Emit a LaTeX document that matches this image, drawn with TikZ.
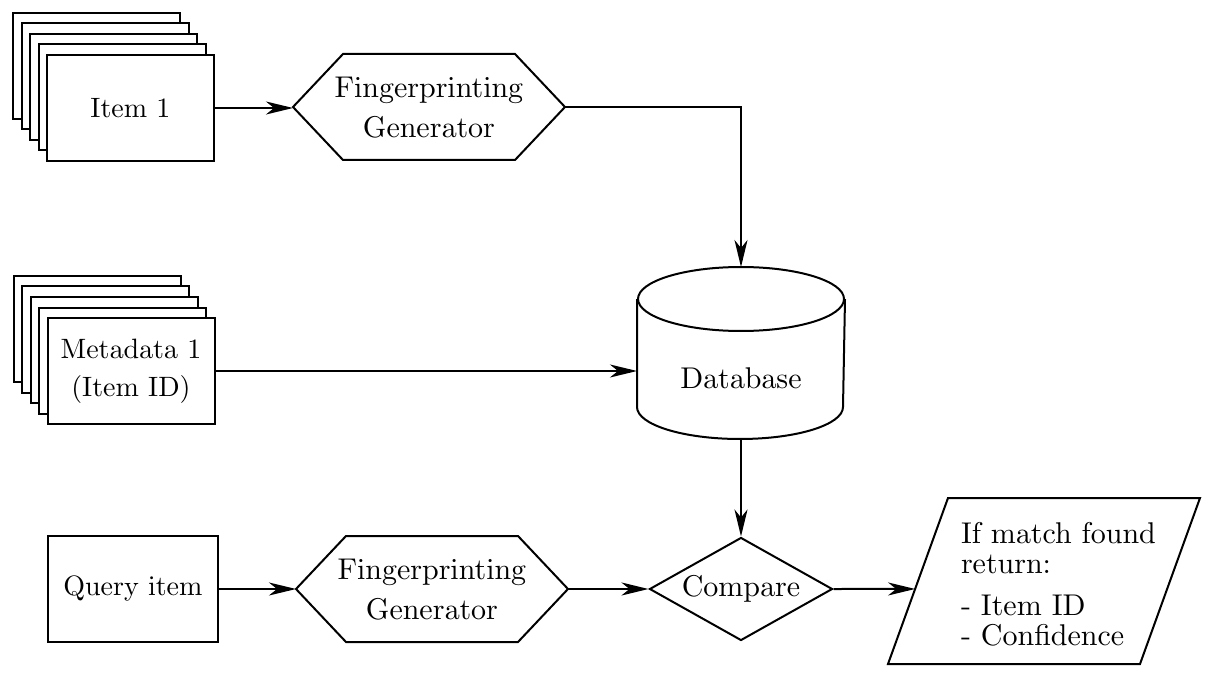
\documentclass[tikz,border=0pt]{standalone}
\usetikzlibrary{shapes.geometric,arrows.meta,calc}
\font\bigrm=cmr10 at 30pt
\font\midrm=cmr10 at 28pt
\begin{document}
\begin{tikzpicture}[x=1pt,y=-1pt,
  line width=2pt,
  every node/.style={font=\bigrm},
  box/.style={draw, fill=white, rectangle, minimum width=167pt, minimum height=106pt, inner sep=0pt, align=center, font={\midrm\baselineskip=38pt}},
  gen/.style={rectangle, minimum width=270pt, minimum height=104pt, inner sep=0pt, align=center, font={\bigrm\baselineskip=40pt}},
  decision/.style={draw, diamond, aspect=1.77, minimum width=183pt, minimum height=103pt, inner sep=0pt},
  flow/.style={-{Stealth[length=27pt,width=13pt,inset=8pt]}},
]
\fill[white] (0,0) rectangle (1216,695);
\useasboundingbox (0,0) rectangle (1216,695);

% Item stack
\foreach \k in {4,3,2,1} \node[box] (itemback\k) at (130.5-8.5*\k, 108-10.5*\k) {};
\node[box] (item1) at (130.5,108) {Item 1};

% Metadata stack
\foreach \k in {4,3,2,1} \node[box] (metaback\k) at (131-8.5*\k, 371-10.5*\k) {};
\node[box] (meta) at (131,371) {Metadata 1\\(Item ID)};

% Query
\node[box, minimum width=170pt] (query) at (133,589) {Query item};

% Generators (hexagons)
\node[gen] (fp1) at (429,107) {Fingerprinting\\Generator};
\node[gen] (fp2) at (432,589) {Fingerprinting\\Generator};
\foreach \n in {fp1,fp2}
  \draw[line join=miter] (\n.west) -- ($(\n.north west)+(50,0)$) -- ($(\n.north east)+(-50,0)$)
    -- (\n.east) -- ($(\n.south east)+(-50,0)$) -- ($(\n.south west)+(50,0)$) -- cycle;

% Database
\node[minimum width=206pt, minimum height=170pt, inner sep=0pt] (db) at (741,353) {};
\draw ($(db.north)+(0,32)$) ellipse [x radius=103pt, y radius=32pt];
\draw ($(db.north west)+(0,32)$) -- ($(db.south west)+(0,-32)$)
  arc[start angle=180, end angle=360, x radius=103pt, y radius=32pt]
  -- ($(db.north east)+(0,32)$);
\node (dblabel) at (741,378) {Database};

% Compare
\node[decision] (cmp) at (741,589) {Compare};

% Output parallelogram
\coordinate (outtl) at (948,498);
\coordinate (outtr) at (1200,498);
\coordinate (outbr) at (1140,664);
\coordinate (outbl) at (888,664);
\coordinate (outin) at ($(outbl)!0.452!(outtl)$);
\draw[line join=miter] (outtl) -- (outtr) -- (outbr) -- (outbl) -- cycle;
\node[anchor=west, align=left, inner sep=0pt, font={\bigrm\baselineskip=30pt}] (outtext) at (960,584)
  {If match found\\return:\\[12pt]- Item ID\\- Confidence};

% Connectors
\draw[flow] (item1.east) -- (item1.east -| fp1.west);
\draw[flow] (fp1.east) -| (db.north);
\draw[flow] (meta.east) -- (meta.east -| db.west);
\draw[flow] (db.south) -- (cmp.north);
\draw[flow] (query.east) -- (fp2.west);
\draw[flow] (fp2.east) -- (cmp.west);
\draw[flow] (cmp.east) -- (outin);
\end{tikzpicture}
\end{document}
